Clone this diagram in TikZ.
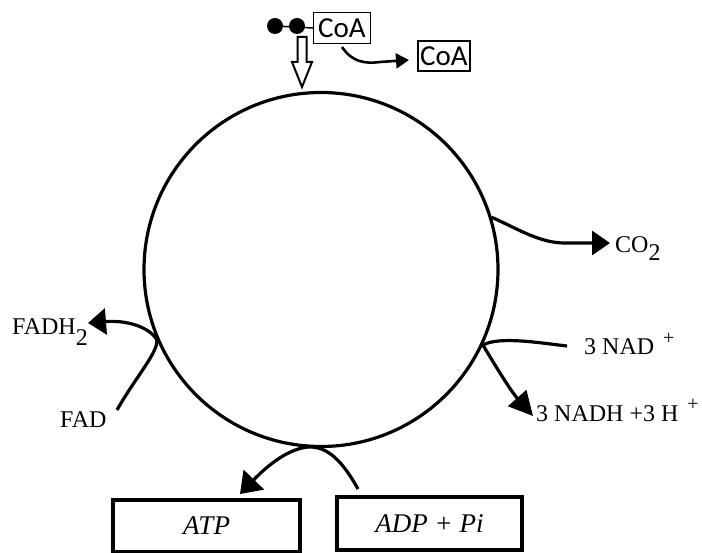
\documentclass[tikz,border=0pt]{standalone}
\usepackage{fontspec}
\setmainfont{Liberation Serif}
\newfontfamily\coafont{Carlito}
\usetikzlibrary{arrows.meta}
\begin{document}
\begin{tikzpicture}[x=1pt,y=-1pt,
  wire/.style={line width=3.2pt},
  lbl/.style={inner sep=0pt, font=\fontsize{24}{26}\selectfont},
  coabox/.style={draw, line width=1.3pt, inner sep=0pt, font=\coafont\fontsize{29}{31}\selectfont},
  resbox/.style={draw, line width=3.5pt, inner sep=0pt, font=\fontsize{27}{30}\selectfont\itshape},
  dot/.style={circle, fill, minimum size=16pt, inner sep=0pt}
]
\useasboundingbox (0,0) rectangle (702,553);
\fill[white] (0,0) rectangle (702,553);

% the cycle
\node[circle, draw, line width=3.2pt, minimum size=354pt, inner sep=0pt] (cyc) at (321,269.5) {};

% acetyl-CoA entering
\node[dot] (d1) at (275,26) {};
\node[dot] (d2) at (297,26) {};
\node[coabox, minimum width=57pt, minimum height=31pt] (coa1) at (342,28) {CoA};
\node[coabox, minimum width=52pt, minimum height=30pt] (coa2) at (444,56) {CoA};
\draw[line width=1.5pt] (d1.center) -- (coa1.west);
\draw[line width=2pt, fill=white, line join=miter]
  (297.5,37) -- (306.5,37) -- (306.5,62) -- (312,62) -- (302,87) -- (292,62) -- (297.5,62) -- cycle;

% CoA released
\coordinate (coaout) at (342,47);
\coordinate (coatip) at (409,60);
\draw[line width=2.6pt, -{Triangle[length=13pt,width=15pt]}]
  (coaout) .. controls (352,62) and (365,64) .. (380,62) -- (coatip);

% labels
\node[lbl, anchor=base west] (co2) at (615,253) {CO\raisebox{-8pt}{2}};
\node[lbl, anchor=base west] (nad) at (584,355) {3 NAD\hspace{9pt}\raisebox{10pt}{\fontsize{20}{20}\selectfont +}};
\node[lbl, anchor=base west] (nadh) at (536,422) {3 NADH +3 H\hspace{9pt}\raisebox{12pt}{\fontsize{20}{20}\selectfont +}};
\node[lbl, anchor=base west] (fadh) at (12,335) {FADH\raisebox{-11pt}{2}};
\node[lbl, anchor=base west] (fad) at (60,428) {FAD};

% CO2 released
\coordinate (co2tip) at (610,243);
\draw[wire, -{Triangle[length=18pt,width=24pt]}]
  (cyc.17) .. controls (520,230) and (540,243) .. (565,243) -- (co2tip);

% NAD+ reduced
\coordinate (nadin) at (567,346);
\coordinate (nadhtip) at (533,416);
\draw[wire, -{Triangle[length=24pt,width=24pt]}]
  (nadin) .. controls (540,343) and (500,336) .. (cyc.-25)
  .. controls (495,365) and (510,390) .. (nadhtip);

% FAD reduced
\coordinate (fadin) at (117,410);
\coordinate (fadhtip) at (88,323);
\draw[wire, -{Triangle[length=18pt,width=26pt]}]
  (fadin) .. controls (135,378) and (160,350) .. (cyc.203)
  .. controls (148,326) and (125,320) .. (fadhtip);

% substrate-level phosphorylation
\node[resbox, minimum width=187pt, minimum height=52pt] (atp) at (206.5,526) {ATP};
\node[resbox, minimum width=185pt, minimum height=53pt] (adp) at (429.5,523.5) {ADP + Pi};
\coordinate (adpin) at (358,489);
\coordinate (atptip) at (240,494);
\draw[wire, -{Triangle[length=20pt,width=28pt]}]
  (adpin) .. controls (343,462) and (328,446) .. (308,447)
  .. controls (288,449) and (268,465) .. (atptip);
\end{tikzpicture}
\end{document}
